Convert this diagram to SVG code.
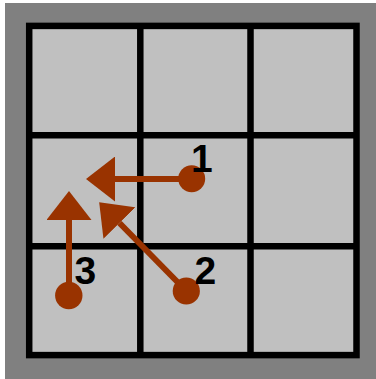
<svg xmlns="http://www.w3.org/2000/svg" width="376" height="379" viewBox="0 0 376 379">
  <style>
    .grid { fill: none; stroke: #000000; stroke-width: 6.5; }
    .conn { stroke: #993300; stroke-width: 6; fill: none; marker-end: url(#head); }
    .dot { fill: #993300; }
    .lbl { font-family: "Liberation Sans", Arial, sans-serif; font-weight: bold; font-size: 39px; fill: #000000; }
  </style>
  <defs>
    <marker id="head" viewBox="0 -22.5 29 45" refX="0" refY="0" markerWidth="29" markerHeight="45" markerUnits="userSpaceOnUse" orient="auto">
      <path d="M0,-22.5 L29,0 L0,22.5 Z" fill="#993300"/>
    </marker>
  </defs>
  <rect x="0" y="0" width="376" height="379" fill="#ffffff"/>
  <rect x="5" y="3" width="371" height="376" fill="#808080"/>
  <g id="board">
    <rect x="29.2" y="25.9" width="327.3" height="329.2" fill="#c0c0c0"/>
    <rect class="grid" x="29.2" y="25.9" width="327.3" height="329.2"/>
    <line class="grid" x1="140.3" y1="25.9" x2="140.3" y2="355.1"/>
    <line class="grid" x1="250.5" y1="25.9" x2="250.5" y2="355.1"/>
    <line class="grid" x1="29.2" y1="135.3" x2="356.5" y2="135.3"/>
    <line class="grid" x1="29.2" y1="246.3" x2="356.5" y2="246.3"/>
  </g>
  <g id="connectors">
    <line class="conn" x1="191.7" y1="179" x2="115" y2="179"/>
    <line class="conn" x1="186.3" y1="291" x2="119.5" y2="223"/>
    <line class="conn" x1="69" y1="295.5" x2="69" y2="220"/>
  </g>
  <g id="node1">
    <circle class="dot" cx="191.7" cy="178.8" r="13.5"/>
    <text class="lbl" x="191" y="172">1</text>
  </g>
  <g id="node2">
    <circle class="dot" cx="186.3" cy="291" r="13.6"/>
    <text class="lbl" x="194.5" y="283.5">2</text>
  </g>
  <g id="node3">
    <circle class="dot" cx="68.8" cy="295.5" r="13.7"/>
    <text class="lbl" x="74.5" y="284">3</text>
  </g>
</svg>
